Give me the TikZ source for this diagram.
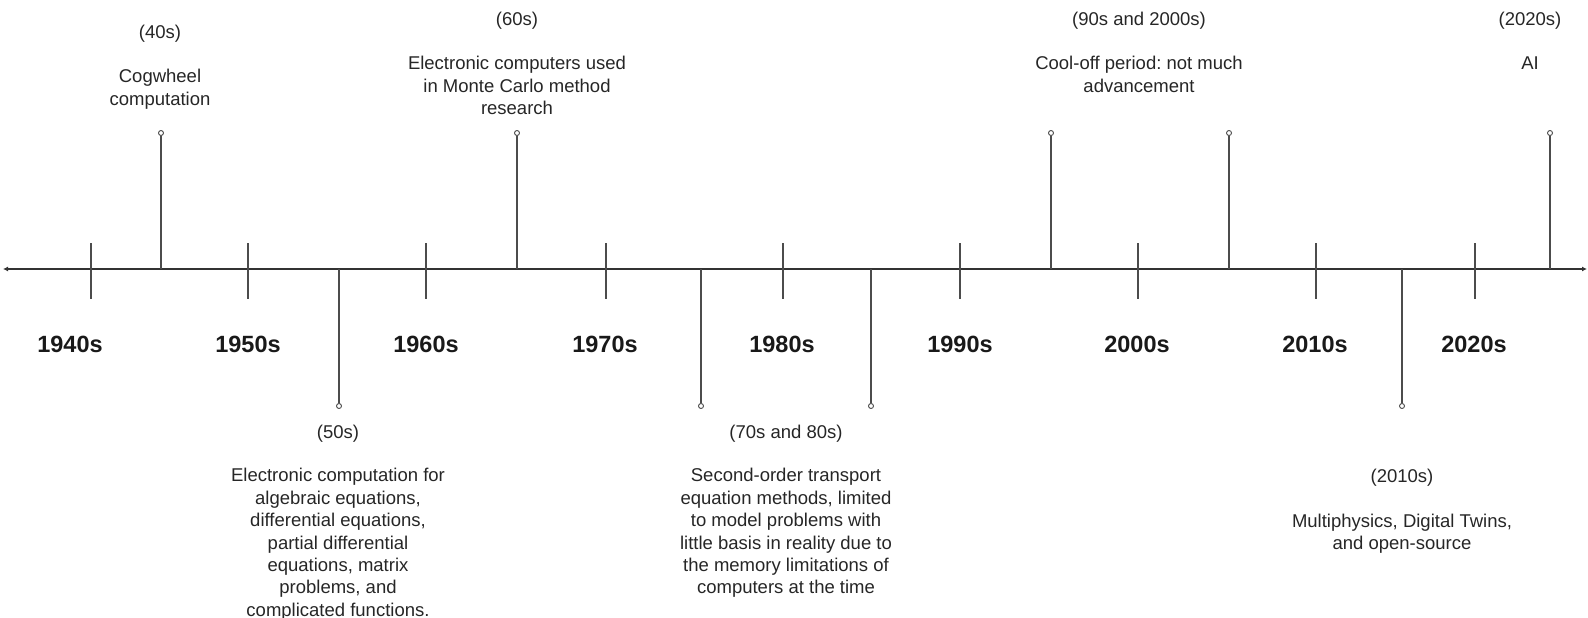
\documentclass[tikz,border=0pt]{standalone}
\usepackage{fontspec}
\setmainfont{Liberation Sans}
\usetikzlibrary{arrows.meta}
\begin{document}
\frenchspacing
\begin{tikzpicture}[x=1pt,y=-1pt,
  axisline/.style={line width=1.4pt, draw=black!80, {Latex[length=5pt,width=5pt]}-{Latex[length=5pt,width=5pt]}},
  tickline/.style={line width=1.2pt, draw=black!70},
  pinline/.style={line width=1.2pt, draw=black!70},
  pinend/.style={circle, draw=black!70, fill=white, line width=0.9pt, minimum size=5pt, inner sep=0pt},
  decade/.style={font=\fontsize{23.5}{28}\selectfont\bfseries, text=black!90, anchor=base, inner sep=0pt},
  era/.style={font=\fontsize{18.5}{22.4}\selectfont\frenchspacing, text=black!85, anchor=base, inner sep=0pt},
  desc/.style={font=\fontsize{18.5}{22.4}\selectfont\frenchspacing, text=black!85, align=center, anchor=north, inner sep=0pt},
]
\useasboundingbox (0,0) rectangle (1588,618);

% axis
\coordinate (L) at (3,269);
\coordinate (R) at (1587,269);
\draw[axisline] (L) -- (R);

% ticks
\foreach \x in {91,248,426,606,783,960,1138,1316,1475}
  \draw[tickline] (\x,243) -- (\x,299);

% decade labels
\node[decade] (d1940) at (70,352) {1940s};
\node[decade] (d1950) at (248,352) {1950s};
\node[decade] (d1960) at (426,352) {1960s};
\node[decade] (d1970) at (605,352) {1970s};
\node[decade] (d1980) at (782,352) {1980s};
\node[decade] (d1990) at (960,352) {1990s};
\node[decade] (d2000) at (1137,352) {2000s};
\node[decade] (d2010) at (1315,352) {2010s};
\node[decade] (d2020) at (1474,352) {2020s};

% pins up
\foreach \n/\x in {p40/161,p60/517,p90/1051,p00/1229,p20/1550}{
  \coordinate (\n a) at (\x,269);
  \node[pinend] (\n) at (\x,133) {};
  \draw[pinline] (\n a) -- (\n);
}
% pins down
\foreach \n/\x in {p50/339,p70/701,p80/871,p10/1402}{
  \coordinate (\n a) at (\x,269);
  \node[pinend] (\n) at (\x,406) {};
  \draw[pinline] (\n a) -- (\n);
}

% texts above
\node[era] (e40) at (160,38.5) {(40s)};
\node[desc] (t40) at (160,66.8) {\strut Cogwheel\\computation};

\node[era] (e60) at (517,26) {(60s)};
\node[desc] (t60) at (517,53.8) {\strut Electronic computers used\\in Monte Carlo method\\research};

\node[era] (e90) at (1139,26) {(90s and 2000s)};
\node[desc] (t90) at (1139,53.8) {\strut Cool-off period: not much\\advancement};

\node[era] (e20) at (1530,26) {(2020s)};
\node[desc] (t20) at (1530,53.8) {\strut AI};

% texts below
\node[era] (e50) at (338,438) {(50s)};
\node[desc] (t50) at (338,466) {\strut Electronic computation for\\algebraic equations,\\differential equations,\\partial differential\\equations, matrix\\problems, and\\complicated functions.};

\node[era] (e70) at (786,438) {(70s and 80s)};
\node[desc] (t70) at (786,466) {\strut Second-order transport\\equation methods, limited\\to model problems with\\little basis in reality due to\\the memory limitations of\\computers at the time};

\node[era] (e10) at (1402,482.7) {(2010s)};
\node[desc] (t10) at (1402,511.6) {\strut Multiphysics, Digital Twins,\\and open-source};
\end{tikzpicture}
\end{document}
